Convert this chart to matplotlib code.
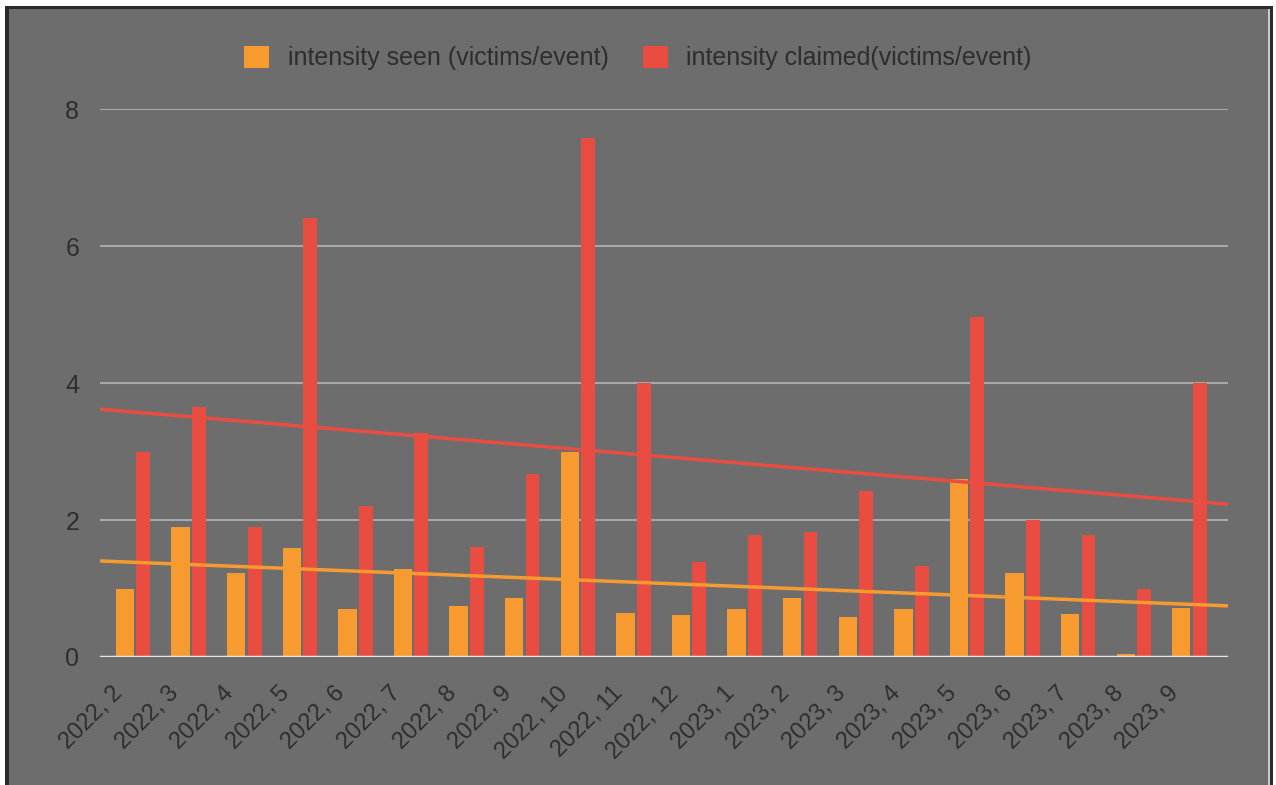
import numpy as np
import matplotlib
matplotlib.use("Agg")
import matplotlib.pyplot as plt
from matplotlib.patches import Patch, Rectangle

months = ["2022, 2", "2022, 3", "2022, 4", "2022, 5", "2022, 6", "2022, 7", "2022, 8",
          "2022, 9", "2022, 10", "2022, 11", "2022, 12", "2023, 1", "2023, 2", "2023, 3",
          "2023, 4", "2023, 5", "2023, 6", "2023, 7", "2023, 8", "2023, 9"]
seen = [1.0, 1.9, 1.23, 1.59, 0.7, 1.28, 0.74, 0.86, 3.0, 0.64,
        0.61, 0.7, 0.86, 0.58, 0.7, 2.6, 1.23, 0.63, 0.04, 0.72]
claimed = [3.0, 3.65, 1.9, 6.41, 2.2, 3.27, 1.6, 2.67, 7.58, 4.0,
           1.39, 1.78, 1.82, 2.42, 1.33, 4.96, 2.0, 1.78, 0.99, 4.0]

bg = "#6d6d6d"
orange = "#f79b30"
red = "#e94c40"
txt = "#2e2e2e"

plt.rcParams['font.family'] = ['Liberation Sans', 'DejaVu Sans']

W, H = 1276, 785
fig = plt.figure(figsize=(W / 100, H / 100), dpi=100, facecolor="white")

# panel background and frame lines
fig.patches.append(Rectangle((8 / W, 0), (1268 - 8) / W, (H - 8) / H, transform=fig.transFigure,
                             facecolor=bg, edgecolor="none", zorder=-2))
fig.patches.append(Rectangle((5 / W, 0), 4 / W, (H - 6) / H, transform=fig.transFigure,
                             facecolor="#2b2b2b", edgecolor="none", zorder=-1))
fig.patches.append(Rectangle((5 / W, (H - 9) / H), (1273 - 5) / W, 3 / H, transform=fig.transFigure,
                             facecolor="#2b2b2b", edgecolor="none", zorder=-1))
fig.patches.append(Rectangle((1268 / W, 0), 2 / W, (H - 9) / H, transform=fig.transFigure,
                             facecolor="#c8c8c8", edgecolor="none", zorder=-1))
fig.patches.append(Rectangle((1270 / W, 0), 3 / W, (H - 6) / H, transform=fig.transFigure,
                             facecolor="#2b2b2b", edgecolor="none", zorder=-1))

ax = fig.add_axes([100 / W, 1 - 657 / H, (1228 - 100) / W, (657 - 109) / H])
ax.set_facecolor("none")
ax.set_zorder(2)

x = np.arange(len(months))
ax.bar(x, seen, width=0.33, color=orange, zorder=3)
ax.bar(x + 0.33, claimed, width=0.25, color=red, zorder=3)

xl = (-0.45, 19.84)
xs = np.array(xl)
for vals, c in [(seen, orange), (claimed, red)]:
    k, b = np.polyfit(x, vals, 1)
    ax.plot(xs, k * xs + b, color=c, lw=2.5, zorder=4)

ax.set_xlim(*xl)
ax.set_ylim(0, 8)
ax.set_yticks([0, 2, 4, 6, 8])
ax.grid(axis="y", color="#a8a8a8", lw=1.5, zorder=1)
ax.axhline(0, color="#e6e6e6", lw=2.5, zorder=5)
for s in ax.spines.values():
    s.set_visible(False)
ax.tick_params(length=0, labelsize=18, colors=txt, pad=15)
ax.set_xticks(x - 0.1)
ax.set_xticklabels(months, rotation=45, ha="right", va="center", rotation_mode="anchor")
ax.tick_params(axis="x", pad=24, labelsize=17)

handles = [Patch(facecolor=orange, label="intensity seen (victims/event)"),
           Patch(facecolor=red, label="intensity claimed(victims/event)")]
fig.legend(handles=handles, loc="center", bbox_to_anchor=(0.5, 1 - 58 / H), ncol=2,
           frameon=False, fontsize=18, labelcolor=txt, handlelength=1.0, handleheight=1.0,
           handletextpad=0.75, columnspacing=1.35)

fig.savefig("out.png", dpi=100, facecolor=fig.get_facecolor())
